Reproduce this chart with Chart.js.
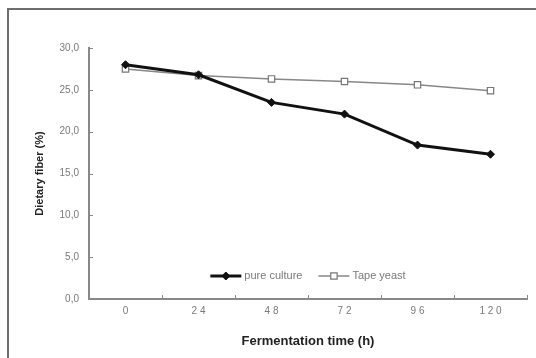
<!DOCTYPE html>
<html>
<head>
<meta charset="utf-8">
<script src="https://cdn.jsdelivr.net/npm/chart.js@4.4.1/dist/chart.umd.min.js"></script>
<style>
  html, body { margin: 0; padding: 0; background: #fff; }
  #wrap { position: relative; width: 536px; height: 358px; overflow: hidden; }
  #frame { position: absolute; left: 7px; top: 8px; width: 600px; height: 400px;
           border-top: 2px solid #6e6e6e; border-left: 2px solid #6e6e6e; }
  #myChart { position: absolute; left: 0; top: 0; }
</style>
</head>
<body>
<div id="wrap">
  <div id="frame"></div>
  <canvas id="myChart" width="536" height="358"></canvas>
</div>
<script>
// x categories (hours), written with the gaps the picture shows
const hours = ['0', '2 4', '4 8', '7 2', '9 6', '1 2 0'];
const pureCulture = [28.0, 26.8, 23.5, 22.1, 18.4, 17.3];
const tapeYeast = [27.5, 26.7, 26.3, 26.0, 25.6, 24.9];
const yTickLabels = ['0,0', '5,0', '10,0', '15,0', '20,0', '25,0', '30,0'];

const labelGray = '#7a7a7a';
const axisGray = '#888';

// small tick marks pointing into the plot, like the original
const innerTicks = {
  id: 'innerTicks',
  afterDraw(chart) {
    const ctx = chart.ctx;
    const x = chart.scales.x, y = chart.scales.y;
    ctx.save();
    ctx.strokeStyle = axisGray;
    ctx.lineWidth = 1;
    y.ticks.forEach((t, i) => {
      const py = Math.round(y.getPixelForTick(i)) + 0.5;
      ctx.beginPath();
      ctx.moveTo(x.left, py);
      ctx.lineTo(x.left + 4, py);
      ctx.stroke();
    });
    const half = (x.getPixelForValue(1) - x.getPixelForValue(0)) / 2;
    for (let i = 0; i < hours.length; i++) {
      const px = Math.round(x.getPixelForValue(i) + half) + 0.5;
      ctx.beginPath();
      ctx.moveTo(px, y.bottom);
      ctx.lineTo(px, y.bottom - 4);
      ctx.stroke();
    }
    ctx.restore();
  }
};

// legend drawn inside the plot, near the bottom
const innerLegend = {
  id: 'innerLegend',
  afterDraw(chart) {
    const ctx = chart.ctx;
    const area = chart.chartArea;
    const sets = chart.data.datasets;
    ctx.save();
    ctx.font = '11px "Liberation Sans"';
    const sample = 31, gap = 3, between = 16;
    let total = 0;
    sets.forEach((d, i) => {
      total += sample + gap + ctx.measureText(d.label).width;
      if (i < sets.length - 1) total += between;
    });
    let cx = (area.left + area.right) / 2 - total / 2;
    const cy = area.bottom - 23;
    sets.forEach(d => {
      ctx.strokeStyle = d.borderColor;
      ctx.lineWidth = d.borderWidth;
      ctx.beginPath();
      ctx.moveTo(cx, cy);
      ctx.lineTo(cx + sample, cy);
      ctx.stroke();
      ctx.fillStyle = d.pointBackgroundColor;
      ctx.strokeStyle = d.pointBorderColor;
      ctx.lineWidth = d.pointBorderWidth;
      Chart.helpers.drawPoint(ctx, {
        pointStyle: d.pointStyle,
        radius: d.pointRadius,
        borderWidth: d.pointBorderWidth
      }, cx + sample / 2, cy);
      ctx.fillStyle = labelGray;
      ctx.textBaseline = 'middle';
      ctx.fillText(d.label, cx + sample + gap, cy);
      cx += sample + gap + ctx.measureText(d.label).width + between;
    });
    ctx.restore();
  }
};

const ctx = document.getElementById('myChart').getContext('2d');
const myChart = new Chart(ctx, {
  type: 'line',
  data: {
    labels: hours,
    datasets: [{
      label: 'pure culture',
      data: pureCulture,
      borderColor: '#111',
      borderWidth: 3,
      pointStyle: 'rectRot',
      pointRadius: 4,
      pointBackgroundColor: '#111',
      pointBorderColor: '#111',
      pointBorderWidth: 1,
      tension: 0
    }, {
      label: 'Tape yeast',
      data: tapeYeast,
      borderColor: axisGray,
      borderWidth: 1.5,
      pointStyle: 'rect',
      pointRadius: 4.5,
      pointBackgroundColor: '#fff',
      pointBorderColor: '#777',
      pointBorderWidth: 1.2,
      tension: 0
    }]
  },
  options: {
    responsive: false,
    animation: false,
    layout: { padding: { top: 48, right: 9, left: 29, bottom: 4 } },
    plugins: {
      legend: { display: false },
      tooltip: { enabled: false }
    },
    scales: {
      x: {
        offset: true,
        grid: { display: false, drawTicks: false },
        border: { color: axisGray, width: 2 },
        ticks: { color: labelGray, font: { family: 'Liberation Sans', size: 10 }, padding: 6 },
        title: {
          display: true,
          text: 'Fermentation time (h)',
          color: '#222',
          font: { family: 'Liberation Sans', size: 13, weight: 'bold' },
          padding: { top: 5, bottom: 5 }
        },
        afterFit(s) { s.height = 55; }
      },
      y: {
        min: 0,
        max: 30,
        grid: { display: false, drawTicks: false },
        border: { color: axisGray, width: 2 },
        ticks: {
          stepSize: 5,
          color: labelGray,
          font: { family: 'Liberation Sans', size: 10 },
          padding: 10,
          callback: (v, i) => yTickLabels[i]
        },
        title: {
          display: true,
          text: 'Dietary fiber (%)',
          color: '#222',
          font: { family: 'Liberation Sans', size: 11, weight: 'bold' },
          padding: { top: 4, bottom: 0 }
        },
        afterFit(s) { s.width = 60; }
      }
    }
  },
  plugins: [innerTicks, innerLegend]
});
</script>
</body>
</html>
